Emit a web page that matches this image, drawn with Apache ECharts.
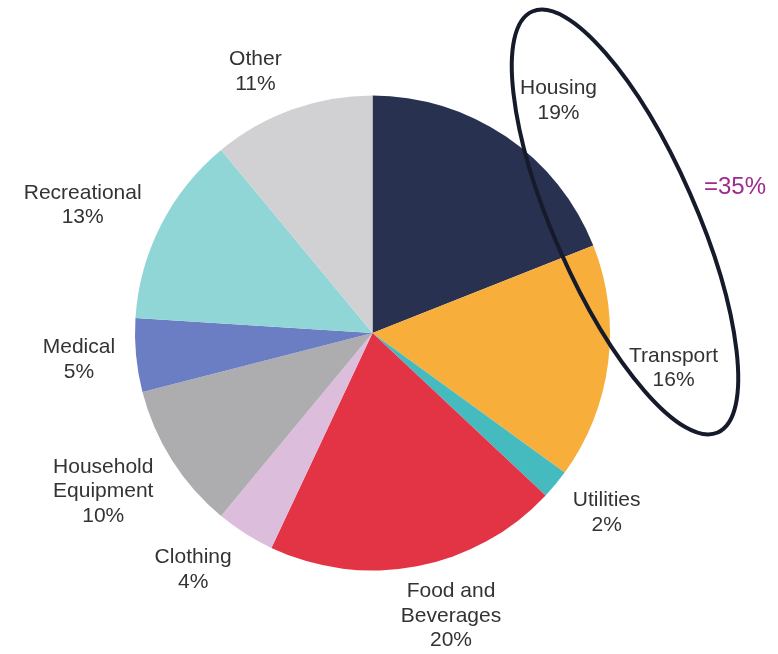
<!DOCTYPE html>
<html>
<head>
<meta charset="utf-8">
<script src="https://cdn.jsdelivr.net/npm/echarts@6/dist/echarts.min.js"></script>
<style>
  html, body { margin: 0; padding: 0; background: #ffffff; }
  #chart { width: 778px; height: 654px; }
</style>
</head>
<body>
<div id="chart"></div>
<script>
// Spending shares by category (percent), clockwise from 12 o'clock
const categories = ['Housing', 'Transport', 'Utilities', 'Food and\nBeverages', 'Clothing',
                    'Household\nEquipment', 'Medical', 'Recreational', 'Other'];
const shares = [19, 16, 2, 20, 4, 10, 5, 13, 11];
const sliceColors = ['#283150', '#F7AE3B', '#46BBBF', '#E23445', '#DCBEDC',
                     '#ADACAF', '#6B7DC3', '#90D6D6', '#D1D1D3'];
// Categories grouped by the callout ring
const grouped = ['Housing', 'Transport'];

const PIE_CX = 372.5, PIE_CY = 333, PIE_R = 237.5, LABEL_GAP = 16;
const total = shares.reduce((a, b) => a + b, 0);

const chart = echarts.init(document.getElementById('chart'), null, { renderer: 'canvas' });

// Place each label just outside the rim, pushed away from the slice's mid angle
function placeLabel(p) {
  const i = p.dataIndex;
  let before = 0;
  for (let j = 0; j < i; j++) before += shares[j];
  const theta = (before + shares[i] / 2) / total * Math.PI * 2;
  const s = Math.sin(theta), c = Math.cos(theta);
  const ax = PIE_CX + (PIE_R + LABEL_GAP) * s;
  const ay = PIE_CY - (PIE_R + LABEL_GAP) * c;
  const w = p.labelRect.width, h = p.labelRect.height;
  const kx = Math.sign(s) * (w / 2 + 5) * Math.min(1, 3 * Math.abs(s));
  const ky = -Math.sign(c) * (h / 2) * 0.92 * Math.min(1, 1.25 * Math.abs(c));
  return { x: ax + kx, y: ay + ky, align: 'center', verticalAlign: 'middle' };
}

const groupTotal = categories.reduce((acc, name, i) =>
  grouped.includes(name) ? acc + shares[i] : acc, 0);

chart.setOption({
  animation: false,
  backgroundColor: '#ffffff',
  series: [{
    type: 'pie',
    center: [PIE_CX, PIE_CY],
    radius: PIE_R,
    startAngle: 90,
    clockwise: true,
    silent: true,
    data: categories.map((name, i) => ({
      name: name,
      value: shares[i],
      itemStyle: { color: sliceColors[i] }
    })),
    itemStyle: { borderWidth: 0 },
    label: {
      show: true,
      position: 'outside',
      formatter: p => p.name + '\n' + p.value + '%',
      fontFamily: '"Liberation Sans", Arial, sans-serif',
      fontSize: 21,
      lineHeight: 24.5,
      color: '#333333',
      align: 'center',
      overflow: 'none',
      edgeDistance: 0
    },
    labelLine: { show: false },
    labelLayout: placeLabel
  }],
  graphic: [
    {
      type: 'ellipse',
      x: 625,
      y: 222,
      rotation: 0.415,
      shape: { cx: 0, cy: 0, rx: 71, ry: 230 },
      style: { fill: 'none', stroke: '#161B2C', lineWidth: 4 },
      z: 100
    },
    {
      type: 'text',
      x: 735,
      y: 187,
      style: {
        text: '=' + groupTotal + '%',
        fill: '#9E2A8E',
        font: '24px "Liberation Sans", Arial, sans-serif',
        textAlign: 'center',
        textVerticalAlign: 'middle'
      },
      z: 100
    }
  ]
});
</script>
</body>
</html>
